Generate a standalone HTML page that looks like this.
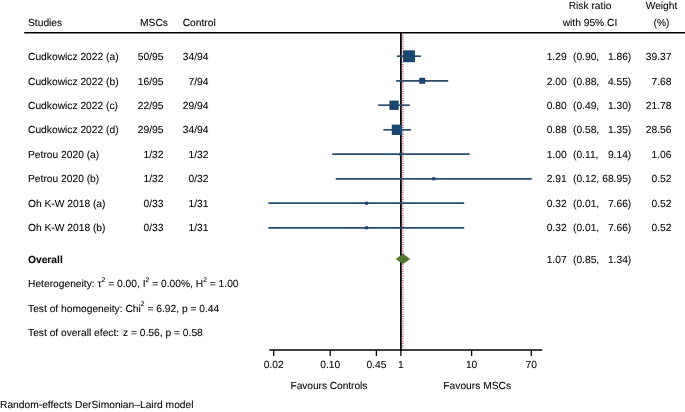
<!DOCTYPE html>
<html><head><meta charset="utf-8"><style>
html,body{margin:0;padding:0;background:#fff;}
body{width:685px;height:412px;overflow:hidden;position:relative;font-family:"Liberation Sans",sans-serif;}
svg{position:absolute;left:0;top:0;will-change:transform;opacity:0.999;}
text{font-family:"Liberation Sans",sans-serif;font-size:10.25px;fill:#000;stroke:#000;stroke-width:0.08px;text-rendering:geometricPrecision;}
</style></head><body>
<svg width="685" height="412" viewBox="0 0 685 412">
<text x="28.0" y="25.9" text-anchor="start" >Studies</text>
<text x="140.0" y="25.9" text-anchor="start" >MSCs</text>
<text x="182.7" y="25.9" text-anchor="start" >Control</text>
<text x="590.0" y="8.8" text-anchor="middle" >Risk ratio</text>
<text x="590.0" y="25.9" text-anchor="middle" >with 95% CI</text>
<text x="661.5" y="8.8" text-anchor="middle" >Weight</text>
<text x="661.5" y="25.9" text-anchor="middle" >(%)</text>
<line x1="24.2" y1="32.8" x2="685" y2="32.8" stroke="#000" stroke-width="1.6"/>
<line x1="400.9" y1="33" x2="400.9" y2="351" stroke="#000" stroke-width="1.8"/>
<line x1="403.0" y1="33.5" x2="403.0" y2="348" stroke="#b8283a" stroke-width="1.3" stroke-dasharray="0.8 1.0" opacity="0.85"/>
<line x1="269.3" y1="350.0" x2="542.2" y2="350.0" stroke="#000" stroke-width="1.6"/>
<line x1="273.7" y1="350" x2="273.7" y2="356.1" stroke="#000" stroke-width="1.3"/>
<text x="273.7" y="367.8" text-anchor="middle" >0.02</text>
<line x1="330.2" y1="350" x2="330.2" y2="356.1" stroke="#000" stroke-width="1.3"/>
<text x="330.2" y="367.8" text-anchor="middle" >0.10</text>
<line x1="376.4" y1="350" x2="376.4" y2="356.1" stroke="#000" stroke-width="1.3"/>
<text x="376.4" y="367.8" text-anchor="middle" >0.45</text>
<line x1="400.9" y1="350" x2="400.9" y2="356.1" stroke="#000" stroke-width="1.3"/>
<text x="400.9" y="367.8" text-anchor="middle" >1</text>
<line x1="471.6" y1="350" x2="471.6" y2="356.1" stroke="#000" stroke-width="1.3"/>
<text x="471.6" y="367.8" text-anchor="middle" >10</text>
<line x1="531.3" y1="350" x2="531.3" y2="356.1" stroke="#000" stroke-width="1.3"/>
<text x="531.3" y="367.8" text-anchor="middle" >70</text>
<text x="328.9" y="389.0" text-anchor="middle" textLength="76.9">Favours Controls</text>
<text x="477.2" y="389.0" text-anchor="middle" >Favours MSCs</text>
<text x="0.0" y="408.4" text-anchor="start" >Random-effects DerSimonian–Laird model</text>
<text x="28.0" y="60.0" text-anchor="start" >Cudkowicz 2022 (a)</text>
<text x="163.5" y="60.0" text-anchor="end" >50/95</text>
<text x="208.5" y="60.0" text-anchor="end" >34/94</text>
<text x="566.6" y="60.0" text-anchor="end" >1.29</text>
<text x="573.0" y="60.0" text-anchor="start" >(0.90,</text>
<text x="631.3" y="60.0" text-anchor="end" >1.86)</text>
<text x="671.5" y="60.0" text-anchor="end" >39.37</text>
<line x1="397.7" y1="56.2" x2="420.0" y2="56.2" stroke="#2a4b6c" stroke-width="1.7" stroke-linecap="square"/>
<rect x="403.1" y="50.3" width="11.9" height="11.9" fill="#1a476f"/>
<text x="28.0" y="84.5" text-anchor="start" >Cudkowicz 2022 (b)</text>
<text x="163.5" y="84.5" text-anchor="end" >16/95</text>
<text x="208.5" y="84.5" text-anchor="end" >7/94</text>
<text x="566.6" y="84.5" text-anchor="end" >2.00</text>
<text x="573.0" y="84.5" text-anchor="start" >(0.88,</text>
<text x="631.3" y="84.5" text-anchor="end" >4.55)</text>
<text x="671.5" y="84.5" text-anchor="end" >7.68</text>
<line x1="397.0" y1="80.8" x2="447.4" y2="80.8" stroke="#2a4b6c" stroke-width="1.7" stroke-linecap="square"/>
<rect x="419.2" y="77.8" width="6.0" height="6.0" fill="#1a476f"/>
<text x="28.0" y="109.0" text-anchor="start" >Cudkowicz 2022 (c)</text>
<text x="163.5" y="109.0" text-anchor="end" >22/95</text>
<text x="208.5" y="109.0" text-anchor="end" >29/94</text>
<text x="566.6" y="109.0" text-anchor="end" >0.80</text>
<text x="573.0" y="109.0" text-anchor="start" >(0.49,</text>
<text x="631.3" y="109.0" text-anchor="end" >1.30)</text>
<text x="671.5" y="109.0" text-anchor="end" >21.78</text>
<line x1="379.0" y1="105.2" x2="409.0" y2="105.2" stroke="#2a4b6c" stroke-width="1.7" stroke-linecap="square"/>
<rect x="389.4" y="100.6" width="9.3" height="9.3" fill="#1a476f"/>
<text x="28.0" y="133.4" text-anchor="start" >Cudkowicz 2022 (d)</text>
<text x="163.5" y="133.4" text-anchor="end" >29/95</text>
<text x="208.5" y="133.4" text-anchor="end" >34/94</text>
<text x="566.6" y="133.4" text-anchor="end" >0.88</text>
<text x="573.0" y="133.4" text-anchor="start" >(0.58,</text>
<text x="631.3" y="133.4" text-anchor="end" >1.35)</text>
<text x="671.5" y="133.4" text-anchor="end" >28.56</text>
<line x1="384.2" y1="129.8" x2="410.1" y2="129.8" stroke="#2a4b6c" stroke-width="1.7" stroke-linecap="square"/>
<rect x="391.8" y="124.6" width="10.4" height="10.4" fill="#1a476f"/>
<text x="28.0" y="157.9" text-anchor="start" >Petrou 2020 (a)</text>
<text x="163.5" y="157.9" text-anchor="end" >1/32</text>
<text x="208.5" y="157.9" text-anchor="end" >1/32</text>
<text x="566.6" y="157.9" text-anchor="end" >1.00</text>
<text x="573.0" y="157.9" text-anchor="start" >(0.11,</text>
<text x="631.3" y="157.9" text-anchor="end" >9.14)</text>
<text x="671.5" y="157.9" text-anchor="end" >1.06</text>
<line x1="333.1" y1="154.2" x2="468.8" y2="154.2" stroke="#2a4b6c" stroke-width="1.7" stroke-linecap="square"/>
<rect x="399.3" y="152.7" width="3.1" height="3.1" fill="#1a476f"/>
<text x="28.0" y="182.4" text-anchor="start" >Petrou 2020 (b)</text>
<text x="163.5" y="182.4" text-anchor="end" >1/32</text>
<text x="208.5" y="182.4" text-anchor="end" >0/32</text>
<text x="566.6" y="182.4" text-anchor="end" >2.91</text>
<text x="573.0" y="182.4" text-anchor="start" >(0.12,</text>
<text x="631.3" y="182.4" text-anchor="end" >68.95)</text>
<text x="671.5" y="182.4" text-anchor="end" >0.52</text>
<line x1="336.5" y1="178.8" x2="530.9" y2="178.8" stroke="#2a4b6c" stroke-width="1.7" stroke-linecap="square"/>
<rect x="432.1" y="177.2" width="3.1" height="3.1" fill="#1a476f"/>
<text x="28.0" y="206.9" text-anchor="start" >Oh K-W 2018 (a)</text>
<text x="163.5" y="206.9" text-anchor="end" >0/33</text>
<text x="208.5" y="206.9" text-anchor="end" >1/31</text>
<text x="566.6" y="206.9" text-anchor="end" >0.32</text>
<text x="573.0" y="206.9" text-anchor="start" >(0.01,</text>
<text x="631.3" y="206.9" text-anchor="end" >7.66)</text>
<text x="671.5" y="206.9" text-anchor="end" >0.52</text>
<line x1="269.2" y1="203.2" x2="463.4" y2="203.2" stroke="#2a4b6c" stroke-width="1.7" stroke-linecap="square"/>
<rect x="365.0" y="201.7" width="3.1" height="3.1" fill="#1a476f"/>
<text x="28.0" y="231.4" text-anchor="start" >Oh K-W 2018 (b)</text>
<text x="163.5" y="231.4" text-anchor="end" >0/33</text>
<text x="208.5" y="231.4" text-anchor="end" >1/31</text>
<text x="566.6" y="231.4" text-anchor="end" >0.32</text>
<text x="573.0" y="231.4" text-anchor="start" >(0.01,</text>
<text x="631.3" y="231.4" text-anchor="end" >7.66)</text>
<text x="671.5" y="231.4" text-anchor="end" >0.52</text>
<line x1="269.2" y1="227.8" x2="463.4" y2="227.8" stroke="#2a4b6c" stroke-width="1.7" stroke-linecap="square"/>
<rect x="365.0" y="226.2" width="3.1" height="3.1" fill="#1a476f"/>
<text x="28.0" y="262.6" text-anchor="start" font-weight="bold">Overall</text>
<text x="566.6" y="262.6" text-anchor="end" >1.07</text>
<text x="573.0" y="262.6" text-anchor="start" >(0.85,</text>
<text x="631.3" y="262.6" text-anchor="end" >1.34)</text>
<polygon points="395.6,258.9 403.0,253.7 410.2,258.9 403.0,264.1" fill="#55752f"/>
<text x="28.0" y="287.1" text-anchor="start" >Heterogeneity: τ<tspan dy="-5.2" font-size="6.8">2</tspan><tspan dy="5.2"> = 0.00, I</tspan><tspan dy="-5.2" font-size="6.8">2</tspan><tspan dy="5.2"> = 0.00%, H</tspan><tspan dy="-5.2" font-size="6.8">2</tspan><tspan dy="5.2"> = 1.00</tspan></text>
<text x="28.0" y="311.6" text-anchor="start" >Test of homogeneity: Chi<tspan dy="-5.2" font-size="6.8">2</tspan><tspan dy="5.2"> = 6.92, p = 0.44</tspan></text>
<text x="28.0" y="336.1" text-anchor="start" >Test of overall efect:<tspan dx="1"> z = 0.56, p = 0.58</tspan></text>
</svg></body></html>
